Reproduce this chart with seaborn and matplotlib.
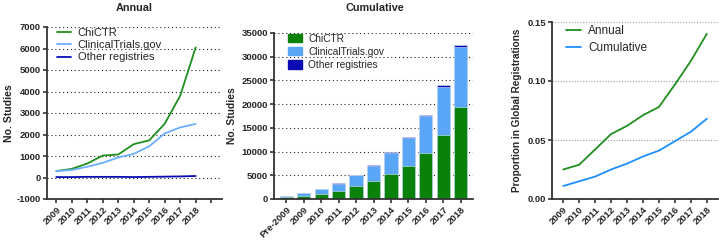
import numpy as np
import pandas as pd
import matplotlib
matplotlib.use("Agg")
import matplotlib.pyplot as plt
import seaborn as sns
from matplotlib.patches import Patch
from matplotlib.lines import Line2D

# ---------------- data ----------------
years = ["2009", "2010", "2011", "2012", "2013", "2014", "2015", "2016", "2017", "2018"]
annual_chictr = [300, 400, 650, 1020, 1070, 1550, 1730, 2500, 3800, 6050]
annual_ctgov = [300, 350, 500, 680, 930, 1100, 1450, 2050, 2330, 2490]
annual_other = [20, 20, 30, 30, 30, 20, 30, 40, 50, 70]

cum_labels = ["Pre-2009", "2009", "2010", "2011", "2012", "2013", "2014", "2015", "2016", "2017", "2018"]
cum_chictr = [350, 700, 1050, 1620, 2670, 3800, 5340, 7030, 9630, 13420, 19470]
cum_ctgov = [300, 480, 1030, 1620, 2300, 3250, 4350, 5870, 7800, 10210, 12670]
cum_other = [50, 80, 100, 130, 160, 190, 210, 240, 280, 330, 400]

prop_annual = [0.025, 0.029, 0.042, 0.055, 0.062, 0.071, 0.078, 0.097, 0.117, 0.140]
prop_cumulative = [0.011, 0.015, 0.019, 0.025, 0.030, 0.036, 0.041, 0.049, 0.057, 0.068]

# ---------------- style ----------------
sns.set_style("ticks")
plt.rcParams['font.family'] = ['Liberation Sans', 'DejaVu Sans']

GREEN_LINE = "#1f8f1f"
GREEN_BAR = "#0a820a"
LBLUE_LINE = "#6ab0ff"
LBLUE_BAR = "#59a6f7"
DBLUE = "#0a0ab4"
CUM_BLUE = "#1e8fff"
SPINE = "#333333"
TICK_FS = 6.8

fig = plt.figure(figsize=(7.19, 2.41), dpi=100)
W, H = 719, 241

def add_ax(l, r, t, b):
    return fig.add_axes([l / W, 1 - b / H, (r - l) / W, (b - t) / H])

ax1 = add_ax(47, 222, 27, 199)
ax2 = add_ax(274, 473, 33, 199)
ax3 = add_ax(552, 718, 22, 199)

def style_axis(ax):
    sns.despine(ax=ax)
    for s in ["left", "bottom"]:
        ax.spines[s].set_linewidth(1.3)
        ax.spines[s].set_color(SPINE)
    ax.tick_params(axis="both", direction="out", length=3, width=1.2, color=SPINE,
                   labelsize=TICK_FS, pad=1.5)
    for lab in ax.get_xticklabels() + ax.get_yticklabels():
        lab.set_fontweight("bold")

# ---------------- Panel 1: Annual ----------------
x_idx = np.arange(len(years))
df1 = pd.DataFrame({
    "x": np.tile(x_idx, 3),
    "value": annual_chictr + annual_ctgov + annual_other,
    "registry": ["ChiCTR"] * 10 + ["ClinicalTrials.gov"] * 10 + ["Other registries"] * 10,
})
for yv in range(0, 8000, 1000):
    ax1.axhline(yv, color="#222222", lw=0.8, ls=(0, (1, 2.5)), zorder=0)
sns.lineplot(data=df1, x="x", y="value", hue="registry",
             palette={"ChiCTR": GREEN_LINE, "ClinicalTrials.gov": LBLUE_LINE, "Other registries": DBLUE},
             lw=1.3, ax=ax1, legend=False)
ax1.set_xlim(-0.6, 10.7)
ax1.set_ylim(-1000, 7000)
yt1 = list(range(-1000, 8000, 1000))
ax1.set_yticks(yt1)
ax1.set_yticklabels([str(v) for v in yt1])
ax1.set_xticks(range(11))
ax1.set_xticklabels(years + [""], rotation=45, ha="right", rotation_mode="anchor")
ax1.set_xlabel("")
ax1.set_ylabel("No. Studies", fontsize=7.6, fontweight="bold", labelpad=2)
style_axis(ax1)
h1 = [Line2D([0], [0], color=c, lw=1.3) for c in (GREEN_LINE, LBLUE_LINE, DBLUE)]
ax1.legend(h1, ["ChiCTR", "ClinicalTrials.gov", "Other registries"], loc="upper left",
           bbox_to_anchor=(0.03, 1.02), frameon=False, fontsize=8, handlelength=1.3,
           handletextpad=0.6, labelspacing=0.2, borderaxespad=0)
fig.text(134 / W, 1 - 8 / H, "Annual", ha="center", va="center", fontsize=7.8, fontweight="bold")

# ---------------- Panel 2: Cumulative stacked bars ----------------
chictr_arr = np.array(cum_chictr)
ct_arr = np.array(cum_ctgov)
oth_arr = np.array(cum_other)
df2 = pd.DataFrame({
    "year": cum_labels,
    "total": chictr_arr + ct_arr + oth_arr,
    "chi_ct": chictr_arr + ct_arr,
    "chi": chictr_arr,
})
for yv in range(5000, 40000, 5000):
    ax2.axhline(yv, color="#222222", lw=0.8, ls=(0, (1, 2.5)), zorder=0)
for col, colr in (("total", DBLUE), ("chi_ct", LBLUE_BAR), ("chi", GREEN_BAR)):
    sns.barplot(data=df2, x="year", y=col, color=colr, saturation=1, width=0.75,
                edgecolor="#d8e8f8", linewidth=0.4, ax=ax2, zorder=2)
ax2.set_xlim(-0.7, 10.7)
ax2.set_ylim(0, 35000)
ax2.set_yticks(range(0, 40000, 5000))
ax2.set_xticks(range(11))
ax2.set_xticklabels(cum_labels, rotation=45, ha="right", rotation_mode="anchor")
ax2.set_xlabel("")
ax2.set_ylabel("No. Studies", fontsize=7.4, fontweight="bold", labelpad=3)
style_axis(ax2)
h2 = [Patch(color=c) for c in (GREEN_BAR, LBLUE_BAR, DBLUE)]
ax2.legend(h2, ["ChiCTR", "ClinicalTrials.gov", "Other registries"], loc="upper left",
           bbox_to_anchor=(0.05, 1.02), frameon=False, fontsize=7.3, handlelength=1.4,
           handleheight=0.9, handletextpad=0.6, labelspacing=0.3, borderaxespad=0)
fig.text(375 / W, 1 - 8 / H, "Cumulative", ha="center", va="center", fontsize=7.8, fontweight="bold")

# ---------------- Panel 3: Proportion ----------------
df3 = pd.DataFrame({
    "x": np.tile(x_idx, 2),
    "value": prop_annual + prop_cumulative,
    "kind": ["Annual"] * 10 + ["Cumulative"] * 10,
})
for yv in (0.05, 0.10, 0.15):
    ax3.axhline(yv, color="#999999", lw=0.8, ls=(0, (1, 1.5)), zorder=0)
sns.lineplot(data=df3, x="x", y="value", hue="kind",
             palette={"Annual": GREEN_LINE, "Cumulative": CUM_BLUE}, lw=1.3, ax=ax3, legend=False)
ax3.set_xlim(-0.7, 9.7)
ax3.set_ylim(0, 0.15)
ax3.set_yticks([0, 0.05, 0.10, 0.15])
ax3.set_yticklabels(["0.00", "0.05", "0.10", "0.15"])
ax3.set_xticks(range(10))
ax3.set_xticklabels(years, rotation=45, ha="right", rotation_mode="anchor")
ax3.set_xlabel("")
ax3.set_ylabel("Proportion in Global Registrations", fontsize=7.2, fontweight="bold", labelpad=4)
style_axis(ax3)
h3 = [Line2D([0], [0], color=c, lw=1.3) for c in (GREEN_LINE, CUM_BLUE)]
ax3.legend(h3, ["Annual", "Cumulative"], loc="upper left", bbox_to_anchor=(0.055, 1.01),
           frameon=False, fontsize=8.5, handlelength=1.3, handletextpad=0.6,
           labelspacing=0.4, borderaxespad=0)

fig.savefig("out.png", dpi=100)
